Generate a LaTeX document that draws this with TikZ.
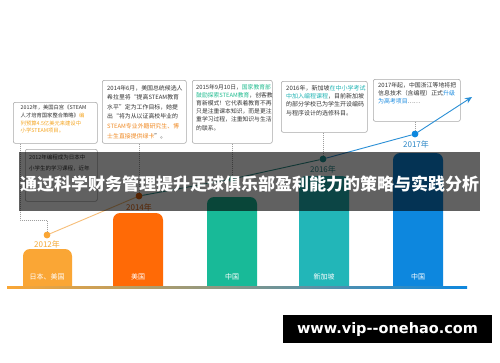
\documentclass[tikz,border=0pt]{standalone}
\usepackage{fontspec}
\setmainfont{Noto Sans CJK SC}
\newfontfamily\wmfont{DejaVu Sans}
\usetikzlibrary{arrows.meta}
\definecolor{txtgray}{HTML}{333333}
\definecolor{boxline}{HTML}{A8A8A8}
\definecolor{orA}{HTML}{F5A623}
\definecolor{orB}{HTML}{F08A24}
\definecolor{grC}{HTML}{1DBB8E}
\definecolor{tlD}{HTML}{22B5B5}
\definecolor{blE}{HTML}{1A8BE0}
\definecolor{barA}{HTML}{FAA635}
\definecolor{barB}{HTML}{FF6A06}
\definecolor{barC}{HTML}{18BA98}
\definecolor{barD}{HTML}{22B6B8}
\definecolor{barE}{HTML}{0D87DE}
\definecolor{dotB}{HTML}{E0600A}
\definecolor{dotD}{HTML}{1F9494}
\definecolor{yrA}{HTML}{F5A935}
\definecolor{yrD}{HTML}{2A8C8C}
\definecolor{yrE}{HTML}{2A86C6}
\definecolor{lnA}{HTML}{F7BE78}
\definecolor{lnB}{HTML}{2E8F8A}
\definecolor{lnE}{HTML}{2A8FD6}
\begin{document}
\begin{tikzpicture}[x=1pt,y=-1pt,
  boxst/.style={draw=boxline, line width=0.6pt, rounded corners=2pt, fill=white, inner sep=0pt, anchor=north west},
  txt/.style={anchor=north west, inner sep=0pt, align=left, text=txtgray},
  conn/.style={draw=gray!75, line width=0.5pt, dash pattern=on 1pt off 1pt},
  dotst/.style={circle, inner sep=0pt, minimum size=6.5pt},
  yearst/.style={font=\fontsize{8}{8}\selectfont, inner sep=0pt},
  barlab/.style={text=white, font=\fontsize{7}{7}\selectfont, inner sep=0pt},
  seg/.style={line width=0.9pt}]
\useasboundingbox (0,0) rectangle (500,362);
\fill[white] (0,0) rectangle (500,362);

% boxes
\node[boxst, minimum width=84pt, minimum height=41pt] (bA) at (13,102) {};
\node[boxst, minimum width=84pt, minimum height=63pt] (bB) at (102,80) {};
\node[boxst, minimum width=80pt, minimum height=63pt] (bC) at (192,80) {};
\node[boxst, minimum width=86pt, minimum height=51pt] (bD) at (281,81) {};
\node[boxst, minimum width=87pt, minimum height=42pt] (bE) at (373,79) {};
\node[boxst, minimum width=72pt, minimum height=52pt] (bF) at (25,149) {};

\node[txt, font=\fontsize{5.3}{7.7}\selectfont] (tA) at (20.5,105)
 {2012年，美国白宫《STEAM\\人才培育国家整合策略》\textcolor{orA}{编}\\\textcolor{orA}{列预算4.5亿美元来建设中}\\\textcolor{orA}{小学STEAM项目。}};
\node[txt, font=\fontsize{5.9}{9.6}\selectfont] (tB) at (107,85)
 {2014年6月，美国总统候选人\\希拉里将“提高STEAM教育\\水平”定为工作目标，她提\\出“将为从以证高校毕业的\\\textcolor{orB}{STEAM专业外籍研究生、博}\\\textcolor{orB}{士生直接提供绿卡}”。};
\node[txt, font=\fontsize{5.8}{8.2}\selectfont] (tC) at (196,84)
 {2015年9月10日，\textcolor{grC}{国家教育部}\\\textcolor{grC}{鼓励探索STEAM教育}，创客教\\育新模式！它代表着教育不再\\只是注重课本知识，而是更注\\重学习过程，注重知识与生活\\的联系。};
\node[txt, font=\fontsize{6}{8.3}\selectfont] (tD) at (286,85)
 {2016年，新加坡\textcolor{tlD}{在中小学考试}\\\textcolor{tlD}{中加入编程课程}，目前新加坡\\的部分学校已为学生开设编码\\与程序设计的选修科目。};
\node[txt, font=\fontsize{5.9}{8.4}\selectfont] (tE) at (378,82)
 {2017年起，中国浙江等地将把\\信息技术（含编程）正式\textcolor{blE}{升级}\\\textcolor{blE}{为高考项目}……};
\node[txt, font=\fontsize{5.5}{11}\selectfont] (tF) at (29,155)
 {2012年编程成为日本中\\小学生的学习课程，近年};

% bars
\fill[barA] (23,286) [rounded corners=7pt] -- (23,249) -- (72,249) [sharp corners] -- (72,286) -- cycle;
\fill[barB] (113,286) [rounded corners=7pt] -- (113,213) -- (163,213) [sharp corners] -- (163,286) -- cycle;
\fill[barC] (207,286) [rounded corners=7pt] -- (207,197) -- (257,197) [sharp corners] -- (257,286) -- cycle;
\fill[barD] (299,286) [rounded corners=7pt] -- (299,176) -- (349,176) [sharp corners] -- (349,286) -- cycle;
\fill[barE] (393,286) [rounded corners=7pt] -- (393,153) -- (443,153) [sharp corners] -- (443,286) -- cycle;
\shade[left color=barA, middle color=barC!80!black!90, right color=barE] (7,286) rectangle (467,288.5);

\node[barlab] (lA) at (47,277) {日本、美国};
\node[barlab] (lB) at (138,277) {美国};
\node[barlab] (lC) at (232,277) {中国};
\node[barlab] (lD) at (324,277) {新加坡};
\node[barlab] (lE) at (418,277) {中国};

% dots
\node[dotst, fill=barA] (d12) at (47,235) {};
\node[dotst, fill=dotB] (d14) at (139,196) {};
\node[dotst, fill=barC] (d15) at (232,179) {};
\node[dotst, fill=dotD] (d16) at (323,159) {};
\node[dotst, fill=barE] (d17) at (415,134) {};
\coordinate (tip) at (472,97);
\coordinate (kA) at (20,220);

% connectors from boxes
\draw[conn] (kA |- bA.south) -- (kA) -- (kA -| d12) -- (d12);
\draw[conn] (bB.south -| d14) -- (d14);
\draw[conn] (bC.south -| d15) -- (d15);
\draw[conn] (bD.south -| d16) -- (d16);
\draw[conn] (bE.south -| d17) -- (d17);

% trend line
\draw[seg, lnA] (d12) -- (d14);
\draw[seg, lnB] (d14) -- (d15);
\draw[seg, lnB] (d15) -- (d16);
\draw[seg, lnE] (d16) -- (d17);
\draw[seg, lnE, -{Stealth[length=7pt,width=6pt]}] (d17) -- (tip);
\node[dotst, fill=barA] at (d12) {};
\node[dotst, fill=dotB] at (d14) {};
\node[dotst, fill=barC] at (d15) {};
\node[dotst, fill=dotD] at (d16) {};
\node[dotst, fill=barE] at (d17) {};

% year labels
\node[yearst, text=yrA] (yA) at (47,244) {2012年};
\node[yearst, text=dotB] (yB) at (139,207) {2014年};
\node[yearst, text=yrD] (yD) at (323,169) {2016年};
\node[yearst, text=yrE] (yE) at (416,144) {2017年};

% caption overlay
\fill[black, opacity=0.62] (19,152) rectangle (480,211);
\node[text=white, inner sep=0pt, font=\fontsize{17}{17}\selectfont\bfseries] (cap) at (249.5,184)
 {通过科学财务管理提升足球俱乐部盈利能力的策略与实践分析};

% watermark
\fill[black] (283,315) rectangle (492,343);
\node[text=white, inner sep=0pt, font=\wmfont\bfseries\fontsize{14.5}{14.5}\selectfont] (wm) at (387.5,329) {www.vip--onehao.com};
\end{tikzpicture}
\end{document}
